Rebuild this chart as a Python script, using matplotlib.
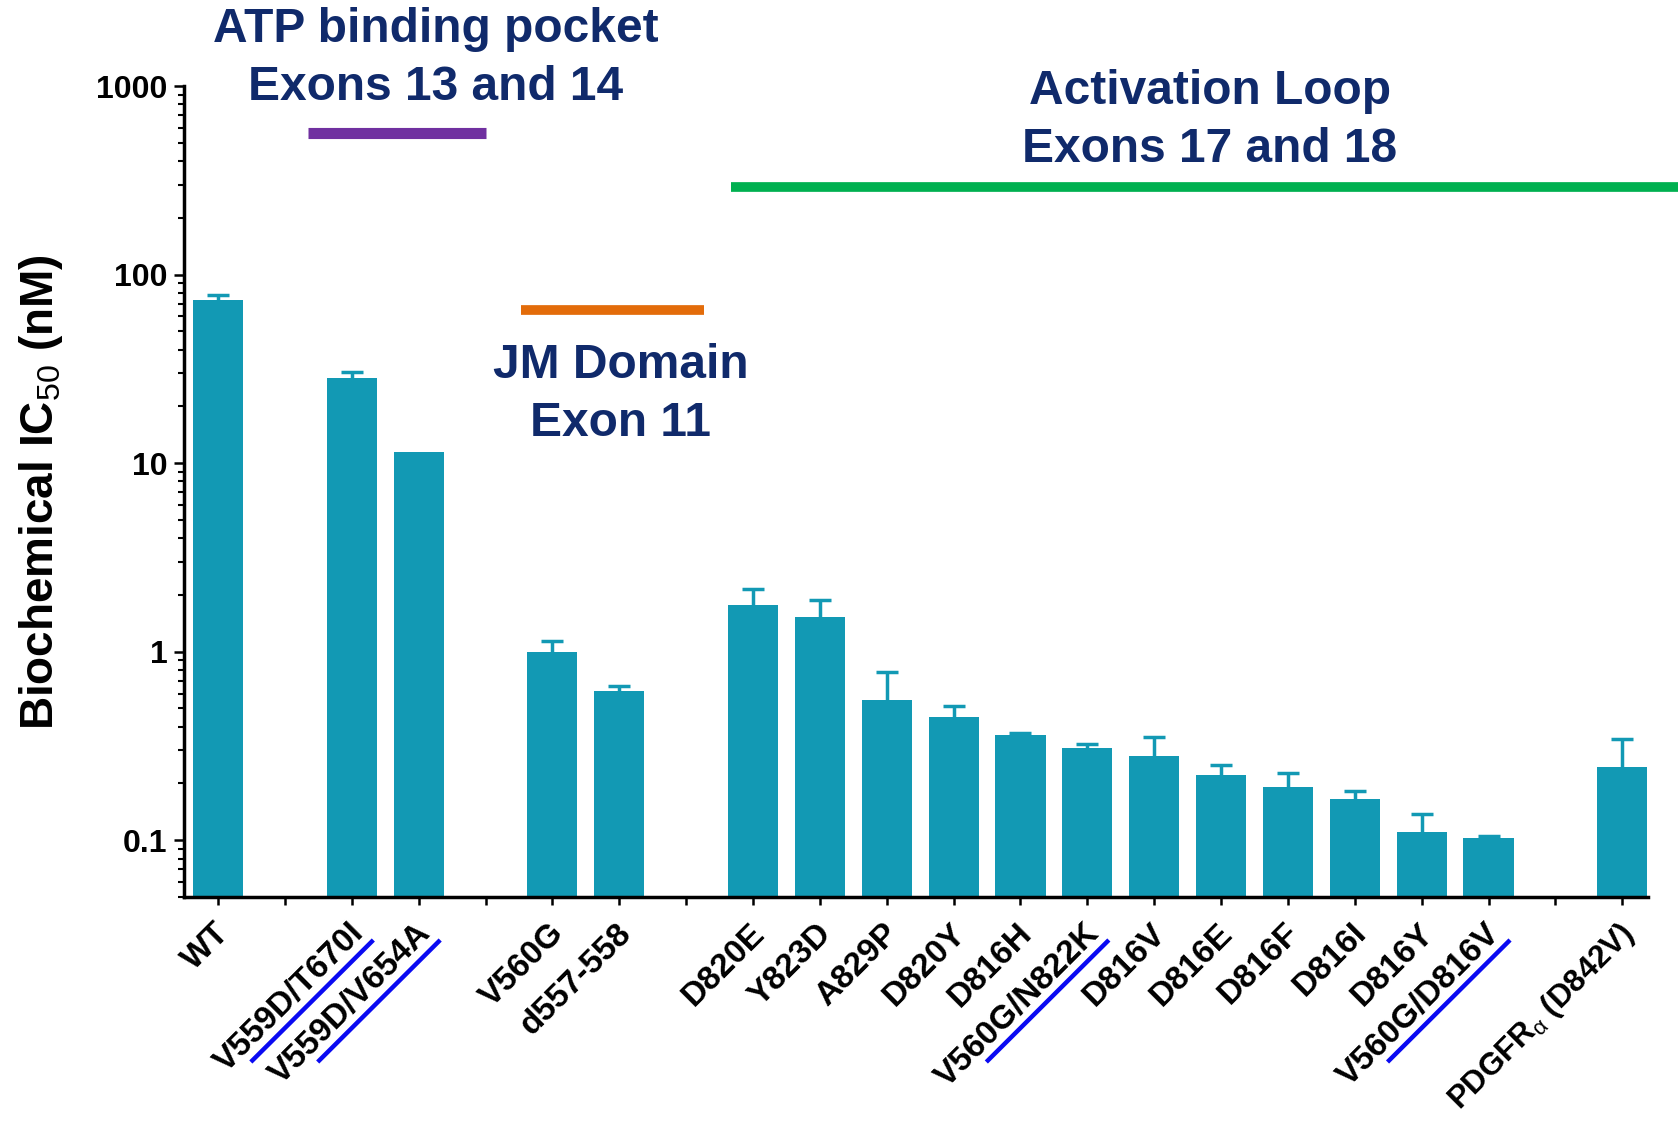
import matplotlib
matplotlib.use('Agg')
import matplotlib.pyplot as plt
import numpy as np
from matplotlib.transforms import ScaledTranslation
from matplotlib.lines import Line2D
from matplotlib.ticker import LogLocator, NullFormatter, FixedLocator

plt.rcParams['font.family'] = ['Liberation Sans', 'DejaVu Sans']
plt.rcParams['mathtext.fontset'] = 'custom'
plt.rcParams['mathtext.rm'] = 'Liberation Sans'
plt.rcParams['mathtext.it'] = 'Liberation Sans'
plt.rcParams['mathtext.bf'] = 'Liberation Sans:bold'

# ---- data ----
categories = ['WT', '', 'V559D/T670I', 'V559D/V654A', '', 'V560G', 'd557-558', '',
              'D820E', 'Y823D', 'A829P', 'D820Y', 'D816H', 'V560G/N822K', 'D816V',
              'D816E', 'D816F', 'D816I', 'D816Y', 'V560G/D816V', '', 'PDGFR$_{α}$ (D842V)']
ic50 = [73, None, 28.3, 11.5, None, 1.0, 0.62, None,
        1.77, 1.52, 0.557, 0.452, 0.362, 0.31, 0.279,
        0.221, 0.191, 0.166, 0.111, 0.103, None, 0.245]
err_up = [5, None, 2.3, 0, None, 0.14, 0.04, None,
          0.38, 0.35, 0.22, 0.063, 0.008, 0.013, 0.074,
          0.031, 0.036, 0.016, 0.027, 0.002, None, 0.099]
underlined = ['V559D/T670I', 'V559D/V654A', 'V560G/N822K', 'V560G/D816V']
yticks = [0.1, 1, 10, 100, 1000]
ytick_labels = ['0.1', '1', '10', '100', '1000']

W, H = 1678, 1121
fig = plt.figure(figsize=(W / 100, H / 100), dpi=100)
ax = fig.add_axes([184 / W, 1 - 897 / H, (1648 - 184) / W, (897 - 86) / H])

bar_color = '#1299b4'
xs = [i for i, v in enumerate(ic50) if v is not None]
vals = [ic50[i] for i in xs]
ax.bar(xs, vals, width=0.75, color=bar_color, zorder=2)

ex = [i for i in xs if err_up[i] > 0]
ev = [ic50[i] for i in ex]
eu = [err_up[i] for i in ex]
_, caps, _ = ax.errorbar(ex, ev, yerr=[np.zeros(len(ev)), eu], fmt='none', ecolor=bar_color,
                         elinewidth=2.5, capsize=8, capthick=2.5, zorder=1)
caps[0].set_visible(False)

ax.set_yscale('log')
ax.set_ylim(0.05, 1000)
ax.set_xlim(-0.51, 21.385)

ax.yaxis.set_major_locator(FixedLocator(yticks))
ax.set_yticklabels(ytick_labels, fontsize=23, fontweight='bold')
ax.yaxis.set_minor_locator(LogLocator(base=10, subs=np.arange(2, 10)))
ax.yaxis.set_minor_formatter(NullFormatter())

for s in ['top', 'right']:
    ax.spines[s].set_visible(False)
for s in ['left', 'bottom']:
    ax.spines[s].set_linewidth(2.5)
ax.tick_params(axis='y', which='major', direction='out', length=7, width=1.8, pad=5)
ax.tick_params(axis='y', which='minor', direction='out', length=4, width=1.5)
ax.tick_params(axis='x', which='major', direction='out', length=6, width=1.8, pad=21)

ax.set_xticks(range(len(categories)))
ax.set_xticklabels(categories, rotation=45, ha='right', va='baseline',
                   rotation_mode='anchor', fontsize=24, fontweight='bold')
shift = ScaledTranslation(0.13, 0, fig.dpi_scale_trans)
xlabels = ax.get_xticklabels()
for lbl in xlabels:
    lbl.set_transform(lbl.get_transform() + shift)
xlabels[-1].set_fontsize(22.5)

# blue underlines for double mutants
for name in underlined:
    xi = categories.index(name)
    tr = fig.dpi_scale_trans + ScaledTranslation(xi, 0, ax.get_xaxis_transform())
    ax.add_line(Line2D([0.215, -1.01], [-0.43, -1.65], transform=tr, color='#0a0af2',
                       lw=3.2, clip_on=False, solid_capstyle='butt'))

# y label
fig.text(41 / W, 1 - 492 / H, r'Biochemical IC$_{50}$ (nM)', rotation=90,
         ha='center', va='center', fontsize=33, fontweight='bold')

# region annotations
navy = '#102a6b'
def ftext(x, y, s):
    fig.text(x / W, 1 - y / H, s, ha='center', va='center', fontsize=34.5,
             fontweight='bold', color=navy)

def fline(x0, x1, y, c, lw):
    fig.add_artist(Line2D([x0 / W, x1 / W], [1 - y / H, 1 - y / H], color=c, lw=lw,
                          transform=fig.transFigure, solid_capstyle='butt'))

ftext(436, 29, 'ATP binding pocket')
ftext(436, 88, 'Exons 13 and 14')
fline(308, 486, 133, '#7030a0', 8)

ftext(621, 365, 'JM Domain')
ftext(621, 423, 'Exon 11')
fline(521, 704, 310, '#e36c0a', 7)

ftext(1210, 92, 'Activation Loop')
ftext(1210, 150, 'Exons 17 and 18')
fline(731, 1678, 187, '#00b050', 7)

fig.savefig('out.png', dpi=100)
